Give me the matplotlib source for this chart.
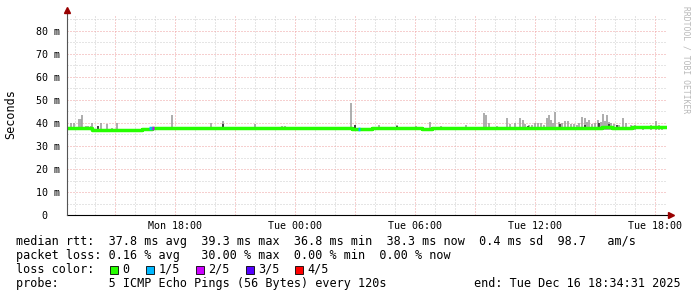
import numpy as np
import matplotlib
matplotlib.use('Agg')
import matplotlib.pyplot as plt
import matplotlib.dates as mdates
from matplotlib.ticker import MultipleLocator, FuncFormatter
from matplotlib.patches import Rectangle
from datetime import datetime, timedelta

# ---- data ----
start = datetime(2025, 12, 15, 12, 34, 31)
end = datetime(2025, 12, 16, 18, 34, 31)

# median rtt in ms, one value every 30 min from start
median_rtt = [38.0, 38.0, 37.9, 37.1, 36.9, 37.0, 36.9, 37.0, 37.3, 37.8,
              37.8, 37.8, 37.8, 37.8, 37.8, 37.8, 37.7, 37.8, 37.7, 37.7,
              37.8, 37.7, 37.8, 37.8, 37.8, 37.7, 37.8, 37.8, 37.8, 37.6,
              37.6, 37.7, 37.8, 37.8, 37.7, 37.8, 37.6, 37.8, 37.8, 37.8,
              37.8, 37.8, 37.8, 37.9, 37.9, 37.8, 37.9, 38.0, 37.9, 38.0,
              38.0, 37.9, 38.0, 38.0, 38.1, 37.9, 38.0, 38.1, 38.2, 38.3,
              38.3]

# light smoke: hours after start, max rtt (ms)
smoke_hours = [0.2, 0.35, 0.6, 0.7, 0.75, 0.95, 1.05, 1.2, 1.25, 1.55, 1.7,
               2.0, 2.25, 2.5, 3.5, 3.65, 3.8, 5.25, 7.2, 7.8, 9.4, 10.75,
               10.9, 14.2, 14.4, 15.6, 16.5, 17.45, 18.15, 18.7, 19.95,
               20.85, 20.95, 21.1, 21.5, 22.0, 22.15, 22.4, 22.65, 22.8,
               22.9, 23.1, 23.25, 23.4, 23.55, 23.7, 23.85, 24.0, 24.1,
               24.2, 24.3, 24.4, 24.6, 24.75, 24.9, 25.05, 25.2, 25.35,
               25.5, 25.6, 25.75, 25.9, 26.0, 26.1, 26.25, 26.4, 26.55,
               26.7, 26.8, 26.9, 27.0, 27.1, 27.2, 27.35, 27.6, 27.8,
               27.95, 28.2, 28.4, 28.8, 29.2, 29.45, 29.6, 29.75]
smoke_max = [39.9, 39.9, 41.7, 41.7, 43.5, 38.8, 38.8, 38.7, 40.0, 38.8, 40.0,
             39.4, 37.9, 40.0, 37.6, 37.6, 37.6, 43.5, 40.0, 40.9, 39.4, 38.7,
             38.7, 48.6, 39.1, 39.1, 39.1, 38.7, 40.6, 38.7, 39.1,
             44.5, 43.5, 39.9, 38.8, 42.3, 39.4, 40.2, 42.3, 41.5,
             39.5, 39.1, 39.0, 39.9, 39.8, 40.2, 39.3, 42.0, 43.5,
             41.5, 40.0, 44.6, 40.6, 39.8, 40.9, 40.9, 39.6, 39.4,
             39.2, 40.1, 42.7, 42.0, 40.6, 41.3, 39.5, 40.0, 41.3,
             40.3, 43.9, 41.0, 43.5, 40.5, 39.9, 39.6, 39.3, 42.0,
             39.8, 39.1, 39.0, 38.8, 39.0, 40.9, 39.2, 38.9]

# dark smoke
dark_hours = [1.55, 7.8, 14.4, 16.5, 23.05, 24.65, 25.9, 26.6, 27.1, 27.5]
dark_max = [38.5, 39.4, 39.0, 38.9, 38.7, 39.5, 39.3, 39.8, 39.6, 39.0]

# samples with packet loss
loss_hours = [4.15, 4.22, 4.3, 14.6]
loss_rtt = [37.8, 37.8, 37.8, 37.6]
loss_level = [1, 1, 2, 1]

loss_labels = ['0', '1/5', '2/5', '3/5', '4/5']
loss_colors = ['#26ff00', '#00b8ff', '#cc00ff', '#5500ff', '#ff0000']

rtt_stats = ['37.8', '39.3', '36.8', '38.3', '0.4', '98.7']
loss_stats = ['0.16', '30.00', '0.00', '0.00']

# ---- figure ----
W, H = 697, 297
fig = plt.figure(figsize=(W / 100, H / 100), dpi=100)
fig.patch.set_facecolor('white')
ax = fig.add_axes([67 / W, (H - 215) / H, 600 / W, 200 / H])
mono = 'DejaVu Sans Mono'

t_med = [start + timedelta(minutes=30 * i) for i in range(len(median_rtt))]
t_smoke = [start + timedelta(hours=h) for h in smoke_hours]
t_dark = [start + timedelta(hours=h) for h in dark_hours]

ax.vlines(t_smoke, 37.0, smoke_max, color='#a0a0a0', lw=1.2, zorder=2)
ax.vlines(t_dark, 37.5, dark_max, color='#303030', lw=1.2, zorder=3)
ax.plot(t_med, median_rtt, color=loss_colors[0], lw=2.5,
        drawstyle='steps-mid', solid_capstyle='butt', zorder=4)
for h, r, lv in zip(loss_hours, loss_rtt, loss_level):
    t0 = start + timedelta(hours=h - 0.04)
    t1 = start + timedelta(hours=h + 0.04)
    ax.plot([t0, t1], [r, r], color=loss_colors[lv], lw=2.5,
            solid_capstyle='butt', zorder=5)

ax.set_xlim(start, end)
ax.set_ylim(0, 200 / 2.3)

ax.xaxis.set_major_locator(mdates.HourLocator(byhour=range(0, 24, 3)))
ax.xaxis.set_minor_locator(mdates.HourLocator())
ax.xaxis.set_major_formatter(FuncFormatter(
    lambda v, p: mdates.num2date(v).strftime('%a %H:%M')
    if mdates.num2date(v).hour % 6 == 0 else ''))
ax.yaxis.set_major_locator(MultipleLocator(10))
ax.yaxis.set_minor_locator(MultipleLocator(5))
ax.yaxis.set_major_formatter(FuncFormatter(
    lambda v, p: '%2d m' % v if v > 0 else ' 0  '))

ax.grid(which='minor', color='#cccccc', lw=0.72, ls=(0, (1, 2)))
ax.grid(which='major', color='#eea0a0', lw=0.72, ls=(0, (1, 2)))
ax.set_axisbelow(True)
ax.tick_params(which='both', length=0)
ax.tick_params(axis='x', which='major', pad=4.5, labelsize=7.2)
ax.tick_params(axis='y', which='major', pad=5, labelsize=7.2)
for lab in ax.get_xticklabels() + ax.get_yticklabels():
    lab.set_family(mono)
for s in ax.spines.values():
    s.set_visible(False)

# axis lines with arrows
ax.plot([0, 1.006], [0, 0], transform=ax.transAxes, color='black', lw=0.8,
        clip_on=False, zorder=6)
ax.plot([0, 0], [0, 1.02], transform=ax.transAxes, color='#555555', lw=0.8,
        clip_on=False, zorder=6)
ax.plot([1.006], [0], marker='>', ms=4.5, color='#990000',
        transform=ax.transAxes, clip_on=False, zorder=7)
ax.plot([0], [1.025], marker='^', ms=4.5, color='#990000',
        transform=ax.transAxes, clip_on=False, zorder=7)


def ftext(x, y, s, **kw):
    fig.text(x / W, 1 - y / H, s, family=mono, **kw)


ftext(11, 114, 'Seconds', fontsize=8.5, rotation=90, ha='center', va='center')
ftext(686, 60, 'RRDTOOL / TOBI OETIKER', fontsize=5.8, rotation=270,
      ha='center', va='center', color='#b8b8b8')

cw = 7.11
x0 = 16
fs = 8.5
line1 = ('median rtt:  %s ms avg  %s ms max  %s ms min  %s ms now  %s ms sd  %s   am/s'
         % tuple(rtt_stats))
line2 = 'packet loss: %s %% avg   %s %% max  %s %% min  %s %% now' % tuple(loss_stats)
ftext(x0, 245.5, line1, fontsize=fs, va='baseline')
ftext(x0, 259, line2, fontsize=fs, va='baseline')
ftext(x0, 273, 'loss color:', fontsize=fs, va='baseline')
col = 13
for lbl, c in zip(loss_labels, loss_colors):
    bx = x0 + col * cw + 2
    fig.add_artist(Rectangle((bx / W, 1 - 273.5 / H), 8 / W, 8 / H,
                             transform=fig.transFigure, facecolor=c,
                             edgecolor='black', lw=0.6))
    ftext(x0 + (col + 2) * cw, 273, lbl, fontsize=fs, va='baseline')
    col += 2 + len(lbl) + 2
ftext(x0, 287, 'probe:       5 ICMP Echo Pings (56 Bytes) every 120s',
      fontsize=fs, va='baseline')
ftext(681, 287, 'end: Tue Dec 16 18:34:31 2025', fontsize=fs, va='baseline',
      ha='right')

fig.savefig('out.png', dpi=100, facecolor='white')
